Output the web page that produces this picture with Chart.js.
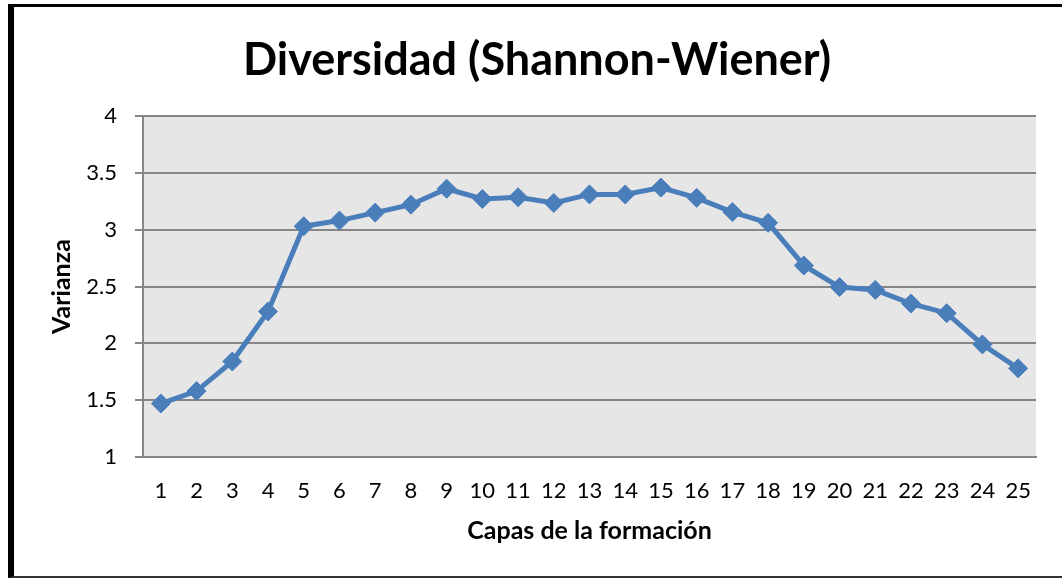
<!DOCTYPE html>
<html>
<head>
<meta charset="utf-8">
<script src="https://cdn.jsdelivr.net/npm/chart.js@4/dist/chart.umd.min.js"></script>
<style>
  html, body { margin: 0; padding: 0; background: #fff; overflow: hidden; }
  #wrap { position: relative; width: 1062px; height: 578px; }
  #frame { position: absolute; left: 8px; top: 4px; width: 1100px; height: 569px;
           border-left: 6px solid #000; border-top: 3px solid #000; border-bottom: 2px solid #333;
           pointer-events: none; }
</style>
</head>
<body>
<div id="wrap">
  <canvas id="c" width="1062" height="578"></canvas>
  <div id="frame"></div>
</div>
<script>
const chartTitle = 'Diversidad (Shannon-Wiener)';
const xTitle = 'Capas de la formación';
const yTitle = 'Varianza';
const categories = ['1','2','3','4','5','6','7','8','9','10','11','12','13','14','15','16','17','18','19','20','21','22','23','24','25'];
const varianza = [1.47, 1.58, 1.84, 2.28, 3.03, 3.08, 3.15, 3.22, 3.36, 3.27, 3.285, 3.235, 3.31, 3.31, 3.37, 3.28, 3.155, 3.06, 2.685, 2.495, 2.47, 2.35, 2.265, 1.99, 1.78];
const yTicks = [1, 1.5, 2, 2.5, 3, 3.5, 4];
const yTickLabels = ['1', '1.5', '2', '2.5', '3', '3.5', '4'];

const FONT = "Lato, 'Liberation Sans', sans-serif";

const plotBg = {
  id: 'plotBg',
  beforeDraw(chart) {
    const {ctx, chartArea: a} = chart;
    ctx.save();
    ctx.fillStyle = '#e6e6e6';
    ctx.fillRect(a.left, a.top, a.right - a.left, a.bottom - a.top);
    ctx.restore();
  }
};

new Chart(document.getElementById('c'), {
  type: 'line',
  data: {
    labels: categories,
    datasets: [{
      data: varianza,
      borderColor: '#4a7ebb',
      backgroundColor: '#4a7ebb',
      borderWidth: 5,
      pointStyle: 'rectRot',
      pointRadius: 9.5,
      pointBorderWidth: 1,
      pointBorderColor: '#4a7ebb',
      pointBackgroundColor: '#4a7ebb',
      tension: 0,
      fill: false
    }]
  },
  options: {
    responsive: false,
    animation: false,
    devicePixelRatio: 1,
    layout: { padding: { left: 38, right: 26, top: 0, bottom: 0 } },
    plugins: {
      legend: { display: false },
      tooltip: { enabled: false },
      title: {
        display: true,
        text: chartTitle,
        color: '#000',
        font: { family: FONT, size: 45, weight: 'bold', lineHeight: 1.2 },
        padding: { top: 33, bottom: 29 }
      }
    },
    scales: {
      x: {
        type: 'category',
        offset: true,
        grid: { display: false, drawTicks: false },
        border: { display: true, color: '#868686', width: 2 },
        ticks: { color: '#000', font: { family: FONT, size: 22 }, padding: 21, maxRotation: 0, autoSkip: false },
        title: { display: true, text: xTitle, color: '#000',
                 font: { family: FONT, size: 25, weight: 'bold', lineHeight: 1.2 },
                 padding: { top: 0, bottom: 32 } },
        afterFit(s) { s.height = 121; }
      },
      y: {
        min: 1, max: 4,
        afterBuildTicks(s) { s.ticks = yTicks.map(v => ({ value: v })); },
        grid: { color: '#868686', lineWidth: 2, drawTicks: true, tickLength: 8 },
        border: { display: true, color: '#868686', width: 2 },
        ticks: { color: '#000', font: { family: FONT, size: 22 }, padding: 18,
                 callback: (v, i) => yTickLabels[i] },
        title: { display: true, text: yTitle, color: '#000',
                 font: { family: FONT, size: 25, weight: 'bold', lineHeight: 1.2 },
                 padding: { top: 9, bottom: 0 } },
        afterFit(s) { s.width = 105; }
      }
    }
  },
  plugins: [plotBg]
});
</script>
</body>
</html>
